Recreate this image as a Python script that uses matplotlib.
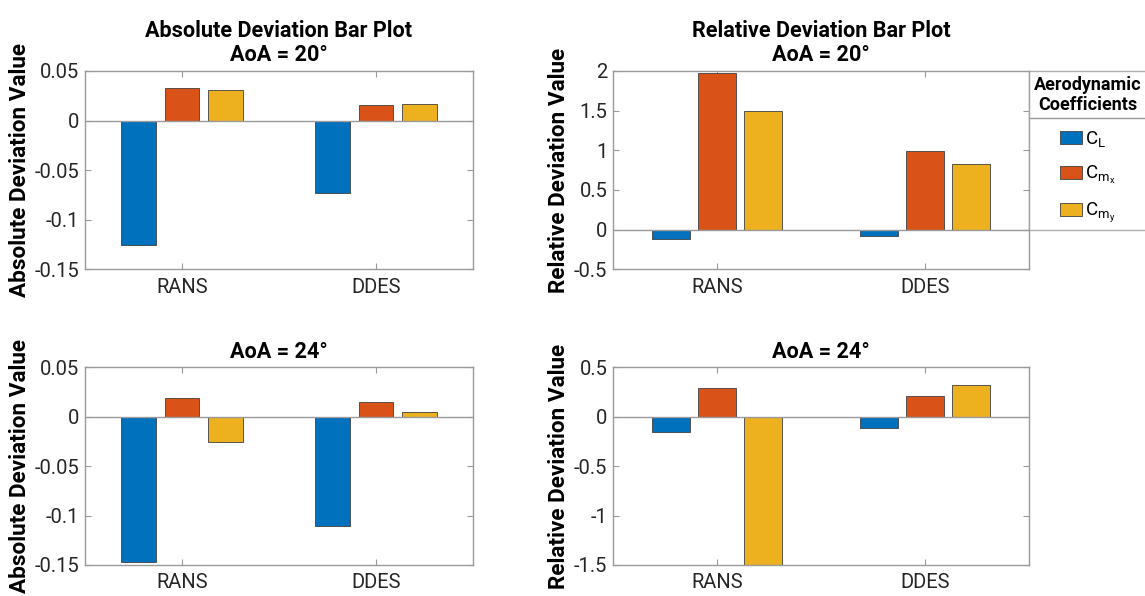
import matplotlib
matplotlib.use("Agg")
import matplotlib.pyplot as plt
import numpy as np
from matplotlib.lines import Line2D

plt.rcParams['font.family'] = ['Roboto', 'DejaVu Sans']
plt.rcParams['mathtext.fontset'] = 'custom'
plt.rcParams['mathtext.rm'] = 'Roboto'
plt.rcParams['mathtext.it'] = 'Roboto'

# ---------------- data ----------------
methods = ['RANS', 'DDES']
coeff_labels = [r'C$_{\mathrm{L}}$', r'C$_{\mathrm{m}_{\mathrm{x}}}$', r'C$_{\mathrm{m}_{\mathrm{y}}}$']
colors = ['#0072BD', '#D95319', '#EDB120']

# absolute deviation, AoA = 20  (index: RANS, DDES)
abs20_CL = [-0.125, -0.073]
abs20_Cmx = [0.033, 0.016]
abs20_Cmy = [0.031, 0.017]
# relative deviation, AoA = 20
rel20_CL = [-0.122, -0.076]
rel20_Cmx = [1.97, 0.987]
rel20_Cmy = [1.49, 0.83]
# absolute deviation, AoA = 24
abs24_CL = [-0.147, -0.111]
abs24_Cmx = [0.0192, 0.0152]
abs24_Cmy = [-0.0257, 0.005]
# relative deviation, AoA = 24
rel24_CL = [-0.155, -0.115]
rel24_Cmx = [0.293, 0.212]
rel24_Cmy = [-1.5, 0.317]

abs_yticks = [-0.15, -0.1, -0.05, 0, 0.05]
abs_yticklabels = ['-0.15', '-0.1', '-0.05', '0', '0.05']
rel20_yticks = [-0.5, 0, 0.5, 1, 1.5, 2]
rel20_yticklabels = ['-0.5', '0', '0.5', '1', '1.5', '2']
rel24_yticks = [-1.5, -1, -0.5, 0, 0.5]
rel24_yticklabels = ['-1.5', '-1', '-0.5', '0', '0.5']

W, H = 1145, 596
fig = plt.figure(figsize=(W / 100, H / 100), dpi=100)

def rect(l, t, r, b):
    return [l / W, 1 - b / H, (r - l) / W, (b - t) / H]

AX_COL = '#9a9a9a'
TXT_COL = '#262626'

def draw(pos, series, ylim, yticks, yticklabels, title, ylabel):
    ax = fig.add_axes(rect(*pos))
    x = np.arange(1, len(methods) + 1)
    offs = [-0.222, 0.0, 0.222]
    bars = []
    for k, vals in enumerate(series):
        b = ax.bar(x + offs[k], vals, width=0.18, color=colors[k],
                   edgecolor='#404040', linewidth=0.6, zorder=2)
        bars.append(b)
    ax.axhline(0, color=AX_COL, lw=1.0, zorder=3)
    ax.set_xlim(0.5, 2.5)
    ax.set_ylim(*ylim)
    ax.set_xticks(x)
    ax.set_xticklabels(methods)
    ax.set_yticks(yticks)
    ax.set_yticklabels(yticklabels)
    ax.tick_params(direction='in', length=4, width=0.8, color=AX_COL,
                   labelcolor=TXT_COL, labelsize=14.5, top=True, right=True)
    ax.tick_params(axis='x', pad=6)
    ax.tick_params(axis='y', pad=4)
    for s in ax.spines.values():
        s.set_color(AX_COL)
        s.set_linewidth(1.0)
    ax.set_title(title, fontsize=15.6, fontweight='bold', pad=7, linespacing=1.15)
    ax.set_ylabel(ylabel, fontsize=16.2, fontweight='bold', labelpad=3)
    return ax, bars

ax1, _ = draw((85, 71, 473, 269.3), [abs20_CL, abs20_Cmx, abs20_Cmy], (-0.15, 0.05),
              abs_yticks, abs_yticklabels,
              'Absolute Deviation Bar Plot\nAoA = 20°', 'Absolute Deviation Value')
ax2, bars = draw((613, 71, 1029, 269.3), [rel20_CL, rel20_Cmx, rel20_Cmy], (-0.5, 2),
                 rel20_yticks, rel20_yticklabels,
                 'Relative Deviation Bar Plot\nAoA = 20°', 'Relative Deviation Value')
ax3, _ = draw((85, 367.3, 473, 565), [abs24_CL, abs24_Cmx, abs24_Cmy], (-0.15, 0.05),
              abs_yticks, abs_yticklabels,
              'AoA = 24°', 'Absolute Deviation Value')
ax4, _ = draw((613, 367.3, 1029, 565), [rel24_CL, rel24_Cmx, rel24_Cmy], (-1.5, 0.5),
              rel24_yticks, rel24_yticklabels,
              'AoA = 24°', 'Relative Deviation Value')

# legend
leg = ax2.legend([b[0] for b in bars], coeff_labels,
                 title='Aerodynamic\nCoefficients',
                 loc='upper left', bbox_to_anchor=(1.0, 1.0),
                 frameon=True, fancybox=False, edgecolor=AX_COL,
                 fontsize=13.5, handlelength=1.15, handleheight=0.7,
                 handletextpad=0.2, labelspacing=0.8,
                 borderaxespad=0.02, borderpad=0.25,
                 title_fontproperties={'weight': 'bold', 'size': 13.0})
leg.get_frame().set_linewidth(1.0)
leg.get_title().set_multialignment('center')
leg.get_title().set_linespacing(1.15)

fig.canvas.draw()
# separator under legend title
sep_y = 1 - 117.7 / H
fig.add_artist(Line2D([1030 / W, 1.0], [sep_y, sep_y], color=AX_COL, lw=1.0,
                      transform=fig.transFigure))

fig.savefig('out.png', dpi=100)
